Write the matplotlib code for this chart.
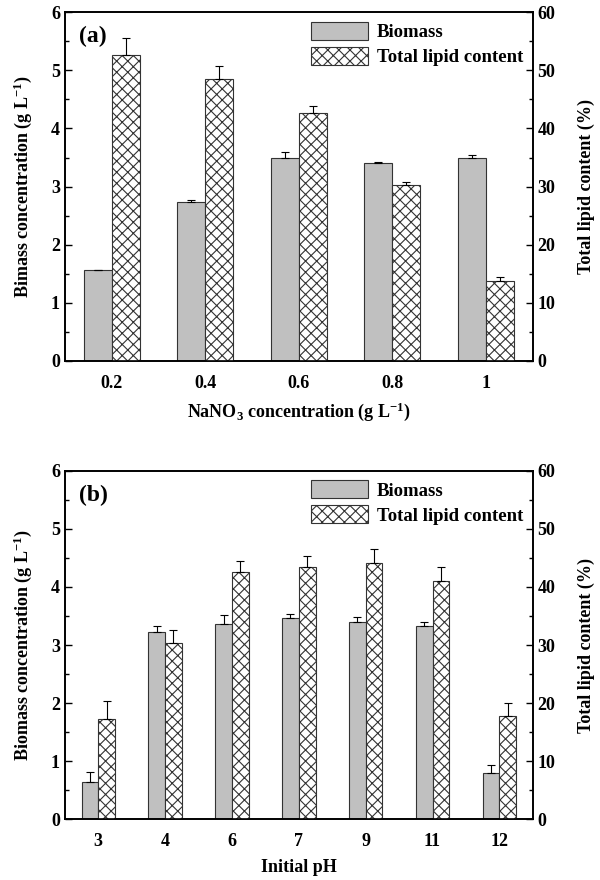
import numpy as np
import matplotlib.pyplot as plt

plt.rcParams['font.family'] = ['Liberation Serif', 'DejaVu Serif']
plt.rcParams['font.weight'] = 'bold'
plt.rcParams['axes.labelweight'] = 'bold'
plt.rcParams['mathtext.fontset'] = 'custom'
plt.rcParams['mathtext.rm'] = 'Liberation Serif:bold'
plt.rcParams['mathtext.bf'] = 'Liberation Serif:bold'
plt.rcParams['mathtext.it'] = 'Liberation Serif:bold'
plt.rcParams['hatch.linewidth'] = 0.8

# panel (a): NaNO3 concentration
nano3_labels = ['0.2', '0.4', '0.6', '0.8', '1']
biomass_a = [1.56, 2.74, 3.49, 3.41, 3.50]
biomass_a_err = [0.0, 0.03, 0.10, 0.01, 0.04]
lipid_a = [52.6, 48.5, 42.7, 30.2, 13.7]
lipid_a_err = [3.0, 2.2, 1.1, 0.5, 0.7]

# panel (b): initial pH
ph_labels = ['3', '4', '6', '7', '9', '11', '12']
biomass_b = [0.65, 3.22, 3.36, 3.47, 3.39, 3.33, 0.79]
biomass_b_err = [0.16, 0.10, 0.15, 0.07, 0.10, 0.06, 0.15]
lipid_b = [17.2, 30.4, 42.6, 43.5, 44.1, 41.1, 17.7]
lipid_b_err = [3.2, 2.2, 1.9, 1.8, 2.5, 2.3, 2.4]

fig = plt.figure(figsize=(6, 8.8), dpi=100)


def draw_panel(rect, labels, bio, bio_err, lip, lip_err, width, tag, xlabel, ylabel):
    ax = fig.add_axes(rect)
    ax2 = ax.twinx()
    x = np.arange(len(labels))
    ekw = dict(elinewidth=0.8, capthick=0.8, ecolor='black')
    b1 = ax.bar(x - width / 2, bio, width, color='#c0c0c0', edgecolor='#333333',
                linewidth=0.8, yerr=[np.zeros(len(bio)), bio_err], capsize=3,
                error_kw=ekw, label='Biomass')
    b2 = ax2.bar(x + width / 2, lip, width, color='white', edgecolor='#333333',
                 linewidth=0.8, hatch='xxx', yerr=[np.zeros(len(lip)), lip_err],
                 capsize=3, error_kw=ekw, label='Total lipid content')
    ax.set_xlim(-0.5, len(labels) - 0.5)
    ax.set_ylim(0, 6)
    ax2.set_ylim(0, 60)
    ax.set_xticks(x)
    ax.set_xticklabels(labels)
    ax.set_yticks(np.arange(0, 7, 1))
    ax.set_yticks(np.arange(0.5, 6, 1), minor=True)
    ax2.set_yticks(np.arange(0, 70, 10))
    ax2.set_yticks(np.arange(5, 60, 10), minor=True)
    ax.tick_params(axis='x', length=0, labelsize=13, pad=10)
    for a in (ax, ax2):
        a.tick_params(axis='y', which='both', direction='in', labelsize=13, width=1)
        a.tick_params(axis='y', which='major', length=5)
        a.tick_params(axis='y', which='minor', length=3)
        for s in a.spines.values():
            s.set_linewidth(1.2)
    ax.set_xlabel(xlabel, fontsize=13, fontweight='bold', labelpad=6)
    ax.set_ylabel(ylabel, fontsize=13, fontweight='bold', labelpad=12)
    ax2.set_ylabel('Total lipid content (%)', fontsize=13, fontweight='bold', labelpad=16)
    ax.text(0.03, 0.93, tag, transform=ax.transAxes, fontsize=17,
            fontweight='bold', va='center')
    ax2.legend([b1, b2], ['Biomass', 'Total lipid content'], loc='upper right',
               frameon=False, prop={'size': 13.5, 'weight': 'bold'},
               handlelength=3.0, handleheight=1.1, borderaxespad=0.1,
               labelspacing=0.3, handletextpad=0.5)
    return ax


draw_panel([0.108, 0.590, 0.780, 0.396], nano3_labels, biomass_a, biomass_a_err,
           lipid_a, lipid_a_err, 0.3, '(a)',
           r'NaNO$_{3}$ concentration (g L$^{-1}$)',
           r'Bimass concentration (g L$^{-1}$)')
draw_panel([0.108, 0.069, 0.780, 0.396], ph_labels, biomass_b, biomass_b_err,
           lipid_b, lipid_b_err, 0.25, '(b)', 'Initial pH',
           r'Biomass concentration (g L$^{-1}$)')

fig.savefig('out.png', dpi=100)
